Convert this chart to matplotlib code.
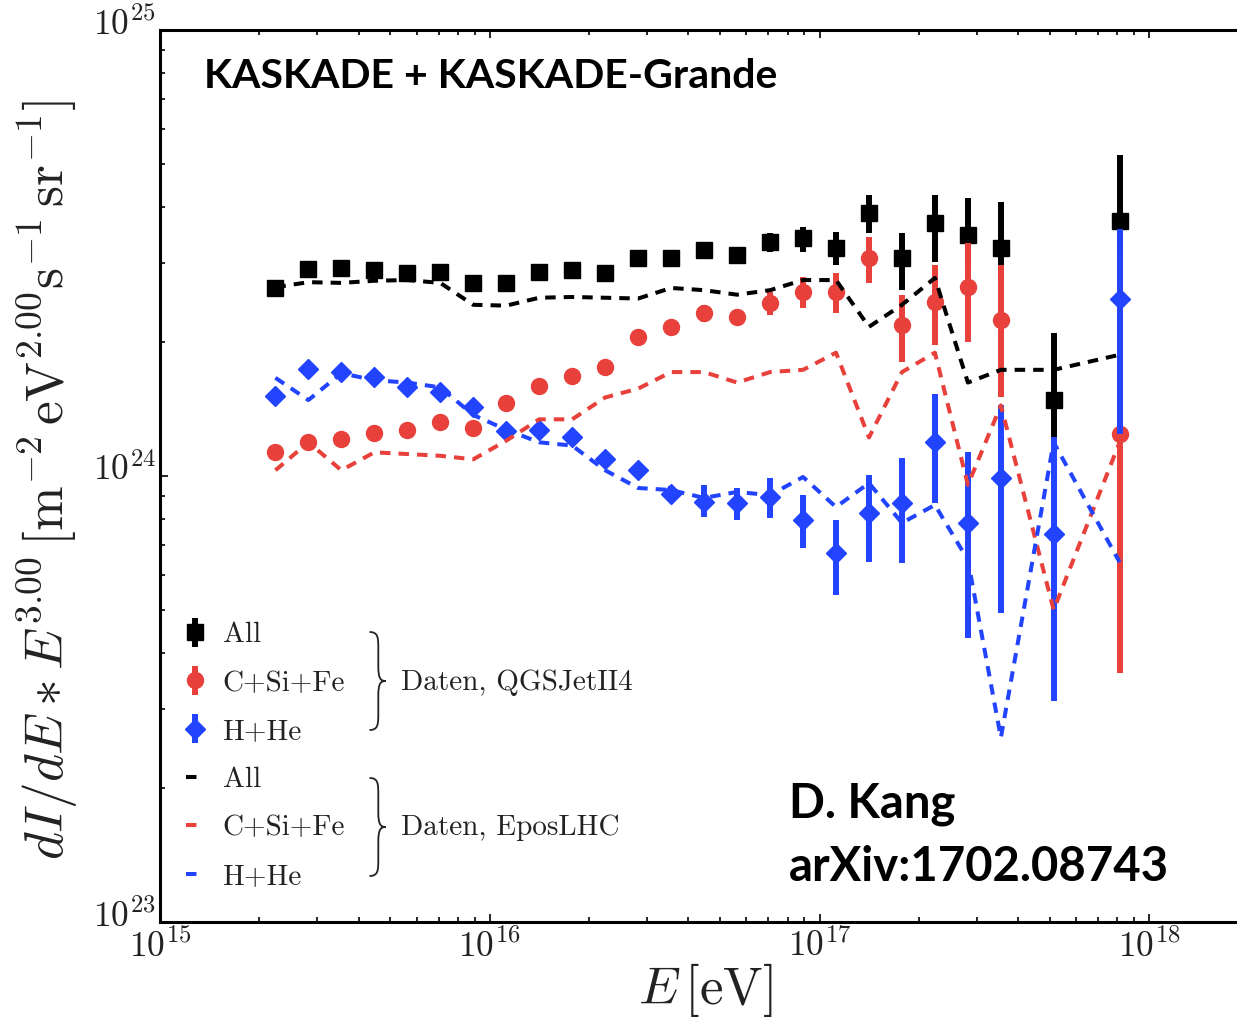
import numpy as np
import matplotlib
matplotlib.use("Agg")
import matplotlib.pyplot as plt
from matplotlib.path import Path
from matplotlib.patches import PathPatch
from matplotlib.ticker import FixedLocator, FuncFormatter, NullFormatter
from matplotlib.transforms import ScaledTranslation

plt.rcParams['mathtext.fontset'] = 'cm'
plt.rcParams['axes.formatter.use_mathtext'] = True

# ---------------- data ----------------
logE = [15.35, 15.45, 15.55, 15.65, 15.75, 15.85, 15.95, 16.05, 16.15, 16.25,
        16.35, 16.45, 16.55, 16.65, 16.75, 16.85, 16.95, 17.05, 17.15, 17.25,
        17.35, 17.45, 17.55, 17.71, 17.91]

# QGSJetII4 (data points with error bars)
all_q = [2.64e24, 2.91e24, 2.93e24, 2.90e24, 2.85e24, 2.87e24, 2.71e24, 2.71e24, 2.87e24, 2.90e24,
         2.85e24, 3.08e24, 3.08e24, 3.21e24, 3.13e24, 3.35e24, 3.42e24, 3.25e24, 3.89e24, 3.08e24,
         3.69e24, 3.47e24, 3.25e24, 1.48e24, 3.73e24]
all_q_hi = [2.66e24, 2.93e24, 2.95e24, 2.92e24, 2.87e24, 2.89e24, 2.73e24, 2.73e24, 2.89e24, 2.93e24,
            2.88e24, 3.12e24, 3.13e24, 3.31e24, 3.26e24, 3.51e24, 3.62e24, 3.52e24, 4.27e24, 3.51e24,
            4.27e24, 4.20e24, 4.11e24, 2.09e24, 5.24e24]
all_q_lo = [2.62e24, 2.89e24, 2.91e24, 2.88e24, 2.83e24, 2.85e24, 2.69e24, 2.69e24, 2.85e24, 2.87e24,
            2.82e24, 3.04e24, 3.03e24, 3.11e24, 3.00e24, 3.18e24, 3.18e24, 2.97e24, 3.51e24, 2.61e24,
            3.02e24, 2.90e24, 2.75e24, 1.22e24, 2.61e24]

heavy_q = [1.13e24, 1.19e24, 1.21e24, 1.25e24, 1.27e24, 1.32e24, 1.28e24, 1.46e24, 1.59e24, 1.68e24,
           1.76e24, 2.05e24, 2.16e24, 2.32e24, 2.27e24, 2.44e24, 2.59e24, 2.58e24, 3.08e24, 2.18e24,
           2.45e24, 2.65e24, 2.24e24, np.nan, 1.24e24]
heavy_q_hi = [1.14e24, 1.20e24, 1.22e24, 1.26e24, 1.28e24, 1.33e24, 1.29e24, 1.47e24, 1.60e24, 1.70e24,
              1.78e24, 2.08e24, 2.22e24, 2.42e24, 2.36e24, 2.59e24, 2.79e24, 2.85e24, 3.44e24, 2.55e24,
              2.97e24, 3.33e24, 2.97e24, np.nan, 3.21e24]
heavy_q_lo = [1.12e24, 1.18e24, 1.20e24, 1.24e24, 1.26e24, 1.31e24, 1.27e24, 1.45e24, 1.58e24, 1.66e24,
              1.74e24, 2.02e24, 2.10e24, 2.22e24, 2.18e24, 2.30e24, 2.38e24, 2.32e24, 2.71e24, 1.80e24,
              1.97e24, 2.00e24, 1.50e24, np.nan, 3.62e23]

light_q = [1.51e24, 1.74e24, 1.71e24, 1.67e24, 1.58e24, 1.54e24, 1.43e24, 1.26e24, 1.27e24, 1.22e24,
           1.09e24, 1.03e24, 9.11e23, 8.74e23, 8.70e23, 8.97e23, 7.97e23, 6.72e23, 8.26e23, 8.70e23,
           1.19e24, 7.85e23, 9.90e23, 7.41e23, 2.49e24]
light_q_hi = [1.52e24, 1.75e24, 1.72e24, 1.68e24, 1.59e24, 1.55e24, 1.44e24, 1.27e24, 1.28e24, 1.24e24,
              1.11e24, 1.06e24, 9.50e23, 9.55e23, 9.40e23, 9.90e23, 9.06e23, 7.97e23, 1.005e24, 1.10e24,
              1.53e24, 1.13e24, 1.44e24, 1.22e24, 3.58e24]
light_q_lo = [1.50e24, 1.73e24, 1.70e24, 1.66e24, 1.57e24, 1.53e24, 1.42e24, 1.25e24, 1.26e24, 1.20e24,
              1.07e24, 1.00e24, 8.75e23, 8.09e23, 7.97e23, 8.05e23, 6.90e23, 5.41e23, 6.41e23, 6.39e23,
              8.70e23, 4.33e23, 4.93e23, 3.13e23, 1.24e24]

# EposLHC (dashed lines)
all_e = [2.65e24, 2.72e24, 2.71e24, 2.74e24, 2.75e24, 2.71e24, 2.42e24, 2.41e24, 2.51e24, 2.52e24,
         2.51e24, 2.50e24, 2.64e24, 2.61e24, 2.55e24, 2.61e24, 2.75e24, 2.75e24, 2.16e24, 2.42e24,
         2.78e24, 1.62e24, 1.73e24, 1.73e24, 1.87e24]
heavy_e = [1.03e24, 1.19e24, 1.03e24, 1.13e24, 1.12e24, 1.11e24, 1.09e24, 1.20e24, 1.34e24, 1.34e24,
           1.50e24, 1.57e24, 1.71e24, 1.71e24, 1.62e24, 1.71e24, 1.73e24, 1.89e24, 1.22e24, 1.71e24,
           1.89e24, 9.55e23, 1.44e24, 5.01e23, 1.19e24]
light_e = [1.66e24, 1.48e24, 1.70e24, 1.64e24, 1.62e24, 1.58e24, 1.37e24, 1.27e24, 1.19e24, 1.17e24,
           1.03e24, 9.40e23, 9.30e23, 8.93e23, 9.21e23, 9.06e23, 9.95e23, 8.52e23, 9.64e23, 7.85e23,
           8.61e23, 6.48e23, 2.59e23, 1.19e24, 6.41e23]

labels_q = ['All', 'C+Si+Fe', 'H+He']
labels_e = ['All', 'C+Si+Fe', 'H+He']
group_labels = ['Daten, QGSJetII4', 'Daten, EposLHC']

# ---------------- style ----------------
BLACK = '#000000'
RED = '#e8403a'
BLUE = '#2244ff'
TXT = '#222222'

W, H = 1237, 1022
fig = plt.figure(figsize=(W / 100, H / 100), dpi=100)
ax = fig.add_axes([160 / W, 1 - 922 / H, (W - 160) / W + 0.002, (922 - 30) / H])

E = 10 ** np.array(logE)

def err(v, lo, hi):
    v = np.array(v); lo = np.array(lo); hi = np.array(hi)
    return np.vstack([v - lo, hi - v])

eb_kw = dict(linestyle='none', elinewidth=4.3, capsize=0)
h_all = ax.errorbar(E, all_q, yerr=err(all_q, all_q_lo, all_q_hi), marker='s', ms=11.5,
                    color=BLACK, zorder=3, **eb_kw)
h_heavy = ax.errorbar(E, heavy_q, yerr=err(heavy_q, heavy_q_lo, heavy_q_hi), marker='o', ms=11.5,
                      color=RED, zorder=4, **eb_kw)
h_light = ax.errorbar(E, light_q, yerr=err(light_q, light_q_lo, light_q_hi), marker='D', ms=10,
                      color=BLUE, zorder=5, **eb_kw)

ln_kw = dict(linewidth=2.9, dashes=(2.6, 2.0), zorder=6)
l_all, = ax.plot(E, all_e, color=BLACK, **ln_kw)
l_heavy, = ax.plot(E, heavy_e, color=RED, **ln_kw)
l_light, = ax.plot(E, light_e, color=BLUE, **ln_kw)

ax.set_xscale('log')
ax.set_yscale('log')
ax.set_xlim(1e15, 10 ** (15 + (W - 160) / 329.0))
ax.set_ylim(1e23, 1e25)

ax.xaxis.set_major_locator(FixedLocator([1e15, 1e16, 1e17, 1e18]))
ax.yaxis.set_major_locator(FixedLocator([1e23, 1e24, 1e25]))
fmt = FuncFormatter(lambda v, p: r'$\mathbf{10^{%d}}$' % int(round(np.log10(v))))
ax.xaxis.set_major_formatter(fmt)
ax.yaxis.set_major_formatter(fmt)
ax.xaxis.set_minor_formatter(NullFormatter())
ax.yaxis.set_minor_formatter(NullFormatter())
ax.tick_params(which='both', direction='in', top=True, right=False, labelsize=25.5, width=1.2,
               labelcolor=TXT)
ax.tick_params(which='major', length=6)
ax.tick_params(axis='x', which='major', pad=5)
ax.tick_params(axis='y', which='major', pad=3)
ax.tick_params(which='minor', length=3.5)
for s in ['left', 'bottom', 'top']:
    ax.spines[s].set_linewidth(2.2)
ax.spines['right'].set_visible(False)
# y tick labels sit slightly above their ticks in the reference
shift = ScaledTranslation(0, 6.5 / 72, fig.dpi_scale_trans)
for tk in ax.yaxis.get_major_ticks():
    tk.label1.set_transform(tk.label1.get_transform() + shift)

axw, axh = W - 160, 922 - 30
def ax_x(px): return (px - 160) / axw
def ax_y(py): return (922 - py) / axh

# legend
leg = ax.legend([h_all, h_heavy, h_light, l_all, l_heavy, l_light], labels_q + labels_e,
                loc='upper left', bbox_to_anchor=(ax_x(186), ax_y(622)), frameon=False,
                handlelength=0.6, handletextpad=0.65, labelspacing=0.75, borderpad=0,
                borderaxespad=0, prop={'family': 'cmr10', 'size': 21})
for t in leg.get_texts():
    t.set_color(TXT)

def brace(x0, yt, yb, w):
    ym = (yt + yb) / 2
    h = (yt - yb) / 2
    xm = x0 + 0.55 * w
    verts = [(x0, yt), (xm, yt), (xm, yt - 0.12 * h), (xm, yt - 0.35 * h),
             (xm, ym + 0.3 * h),
             (xm, ym + 0.05 * h), (x0 + 0.7 * w, ym), (x0 + w, ym),
             (x0 + 0.7 * w, ym), (xm, ym - 0.05 * h), (xm, ym - 0.3 * h),
             (xm, yb + 0.35 * h),
             (xm, yb + 0.12 * h), (xm, yb), (x0, yb)]
    codes = [Path.MOVETO, Path.CURVE4, Path.CURVE4, Path.CURVE4,
             Path.LINETO,
             Path.CURVE4, Path.CURVE4, Path.CURVE4,
             Path.CURVE4, Path.CURVE4, Path.CURVE4,
             Path.LINETO,
             Path.CURVE4, Path.CURVE4, Path.CURVE4]
    ax.add_patch(PathPatch(Path(verts, codes), transform=ax.transAxes, fill=False,
                           lw=1.3, color=TXT, clip_on=False))

brace(ax_x(369), ax_y(632), ax_y(730), 16 / axw)
brace(ax_x(369), ax_y(778), ax_y(876), 16 / axw)
ax.text(ax_x(400), ax_y(683), group_labels[0], transform=ax.transAxes, family='cmr10',
        fontsize=21, va='center', ha='left', color=TXT)
ax.text(ax_x(400), ax_y(828), group_labels[1], transform=ax.transAxes, family='cmr10',
        fontsize=21, va='center', ha='left', color=TXT)

# annotations
fig.text(204 / W, 1 - 76 / H, 'KASKADE + KASKADE-Grande', family='Lato', weight='bold',
         fontsize=29.5, ha='left', va='center')
fig.text(789 / W, 1 - 804 / H, 'D. Kang', family='Lato', weight='bold',
         fontsize=34, ha='left', va='center')
fig.text(789 / W, 1 - 867 / H, 'arXiv:1702.08743', family='Lato', weight='bold',
         fontsize=34, ha='left', va='center')

# axis labels
fig.text(48 / W, 1 - 480 / H,
         r'$dI/dE * E^{3.00}\,[\mathrm{m}^{-2}\,\mathrm{eV}^{2.00}\mathrm{s}^{-1}\,\mathrm{sr}^{-1}]$',
         rotation=90, fontsize=38.5, ha='center', va='center', color=TXT)
fig.text(705 / W, 1 - 990 / H, r'$E\,[\mathrm{eV}]$', fontsize=38, ha='center', va='center',
         color=TXT)

fig.savefig('out.png', dpi=100)
